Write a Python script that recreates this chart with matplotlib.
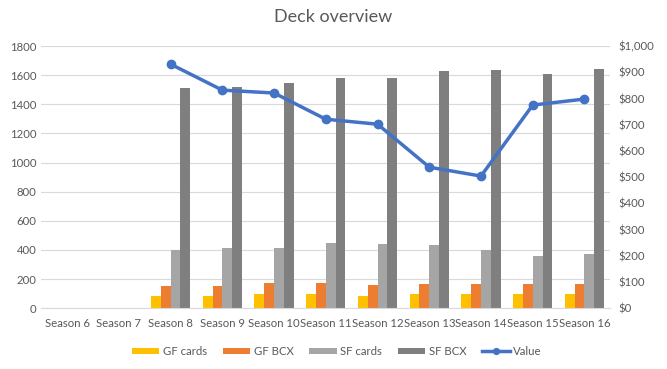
import numpy as np
import matplotlib.pyplot as plt
from matplotlib.ticker import FuncFormatter

plt.rcParams['font.family'] = ['Lato', 'DejaVu Sans']

seasons = ['Season 6', 'Season 7', 'Season 8', 'Season 9', 'Season 10', 'Season 11',
           'Season 12', 'Season 13', 'Season 14', 'Season 15', 'Season 16']
gf_cards = [0, 0, 80, 80, 95, 95, 85, 95, 95, 95, 95]
gf_bcx = [0, 0, 155, 155, 175, 175, 160, 165, 165, 165, 165]
sf_cards = [0, 0, 400, 415, 415, 450, 440, 435, 400, 360, 375]
sf_bcx = [0, 0, 1515, 1520, 1545, 1580, 1580, 1630, 1635, 1610, 1645]
value = [np.nan, np.nan, 931, 832, 821, 721, 702, 538, 504, 775, 798]

txt = '#595959'
fig = plt.figure(figsize=(6.67, 3.69), dpi=100)
ax = fig.add_axes([0.062, 0.165, 0.853, 0.71])
ax2 = ax.twinx()

x = np.arange(len(seasons))
w = 0.19
series = [(gf_cards, '#FFC000', 'GF cards'), (gf_bcx, '#ED7D31', 'GF BCX'),
          (sf_cards, '#A5A5A5', 'SF cards'), (sf_bcx, '#7F7F7F', 'SF BCX')]
for i, (vals, col, lab) in enumerate(series):
    ax.bar(x + (i - 1.5) * w, vals, w, color=col, label=lab, zorder=2)

ax2.plot(x, value, color='#4472C4', lw=2.5, marker='o', ms=6, label='Value', zorder=3)

ax.set_xlim(-0.5, len(seasons) - 0.5)
ax.set_ylim(0, 1800)
ax.set_yticks(range(0, 1801, 200))
ax2.set_ylim(0, 1000)
ax2.set_yticks(range(0, 1001, 100))
ax2.yaxis.set_major_formatter(FuncFormatter(lambda v, p: '${:,.0f}'.format(v)))
ax.set_xticks(x)
ax.set_xticklabels(seasons)

ax.grid(axis='y', color='#D9D9D9', lw=0.8, zorder=0)
ax.set_axisbelow(True)
for a in (ax, ax2):
    for s in a.spines.values():
        s.set_visible(False)
    a.tick_params(length=0, labelsize=8.2, colors=txt)
ax.spines['bottom'].set_visible(True)
ax.spines['bottom'].set_color('#D9D9D9')
ax.tick_params(axis='x', pad=7)
ax2.tick_params(axis='y', pad=6)

fig.suptitle('Deck overview', y=0.975, fontsize=13, color=txt)

h1, l1 = ax.get_legend_handles_labels()
h2, l2 = ax2.get_legend_handles_labels()
fig.legend(h1 + h2, l1 + l2, loc='lower center', ncol=5, frameon=False,
           fontsize=8.2, labelcolor=txt, bbox_to_anchor=(0.505, 0.005),
           handlelength=2.4, handleheight=0.5, columnspacing=1.4, handletextpad=0.3,
           markerscale=0.7)

fig.savefig('out.png', dpi=100)
